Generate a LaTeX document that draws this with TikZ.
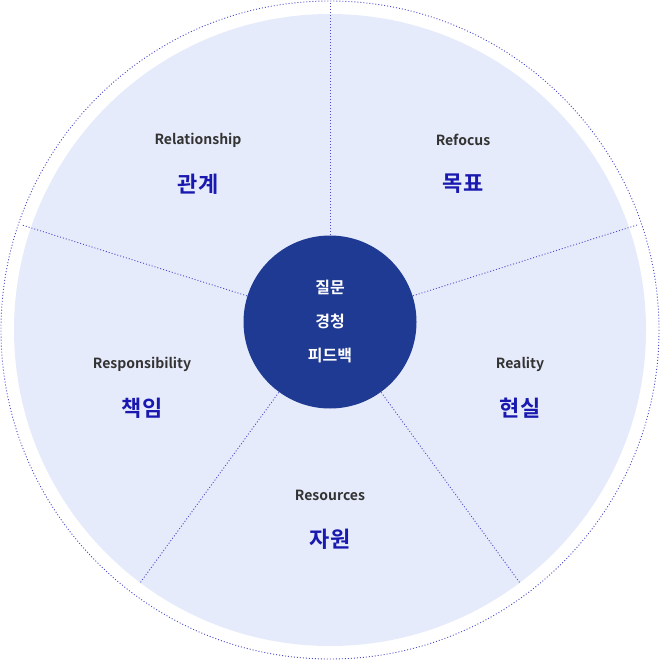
\documentclass[tikz,border=0pt]{standalone}
\usepackage{fontspec}
\setmainfont{Noto Sans CJK KR}[BoldFont={* Bold}]
\begin{document}
\begin{tikzpicture}[x=1pt,y=-1pt,
  dots/.style={draw=blue!70!black!70, line width=0.9pt, dash pattern=on 1pt off 2pt},
  en/.style={font=\bfseries\fontsize{14}{16}\selectfont, text=black!80},
  ko/.style={font=\bfseries\fontsize{22}{26}\selectfont, text=blue!65!black!90!white}]
\definecolor{lightbg}{HTML}{E6EBFB}
\definecolor{navy}{HTML}{1F3A93}
\useasboundingbox (0,0) rectangle (660,660);
\fill[lightbg] (330,330) circle (316);
\draw[dots] (330,330) circle (329);
\coordinate (c) at (330,322);
\coordinate (t) at (330,1);
\coordinate (r) at (637,225);
\coordinate (br) at (520,583);
\coordinate (bl) at (140,583);
\coordinate (l) at (22,225);
\draw[dots] (c) -- (t);
\draw[dots] (c) -- (r);
\draw[dots] (c) -- (br);
\draw[dots] (c) -- (bl);
\draw[dots] (c) -- (l);
\node[circle, fill=navy, minimum size=173pt, inner sep=0] (hub) at (c) {};
\node[font=\bfseries\fontsize{16}{34}\selectfont, text=white, align=center] (hubt) at (c) {질문\\경청\\피드백};
\node[en] (e1) at (198,140) {Relationship};
\node[ko] (k1) at (198,184) {관계};
\node[en] (e2) at (463,140) {Refocus};
\node[ko] (k2) at (463,184) {목표};
\node[en] (e3) at (142,364) {Responsibility};
\node[ko] (k3) at (142,408) {책임};
\node[en] (e4) at (520,364) {Reality};
\node[ko] (k4) at (520,408) {현실};
\node[en] (e5) at (330,495) {Resources};
\node[ko] (k5) at (330,539) {자원};
\end{tikzpicture}
\end{document}
